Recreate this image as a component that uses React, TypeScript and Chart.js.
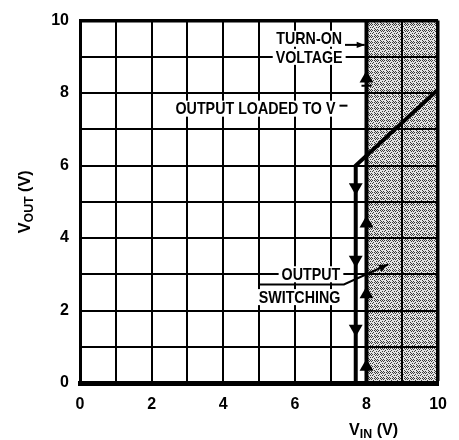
import React, { useEffect, useRef } from "react";
import { Chart, registerables } from "chart.js";

Chart.register(...registerables);

const FONT = '"Liberation Sans", Arial, sans-serif';
const SQUEEZE = 0.84;

// ---- data ----
const gridTicks = [0, 1, 2, 3, 4, 5, 6, 7, 8, 9, 10];
const xTickLabels = [0, 2, 4, 6, 8, 10];
const yTickLabels = [0, 2, 4, 6, 8, 10];

const outputVin = [0, 7.7, 7.7, 10];
const outputVout = [0, 0, 6.0, 8.1];

const turnOnVin = [8, 8];
const turnOnVout = [0, 10];

const fallingVin = 7.7;
const fallingVout = [5.4, 3.4, 1.5];

const risingVin = 8;
const risingVout = [8.4, 4.4, 2.45, 0.45];

const turnOnMarkVout = [8.2];

const shadedVin = [8, 10];

// ---- annotations (data coordinates) ----
const notes = [
  { text: "TURN-ON", vin: 6.4, vout: 9.5 },
  { text: "VOLTAGE", vin: 6.4, vout: 9.0 },
  { text: "OUTPUT LOADED TO V", vin: 4.9, vout: 7.57 },
  { text: "OUTPUT", vin: 6.45, vout: 3.0 },
  { text: "SWITCHING", vin: 6.13, vout: 2.37 },
];
const turnOnArrow = { from: [7.4, 9.33], to: [7.95, 9.33] };
const switchingLeader = [
  [5.0, 2.72],
  [7.37, 2.72],
  [8.6, 3.27],
];

let cachedPattern: CanvasPattern | null = null;
function getPattern(ctx: CanvasRenderingContext2D) {
  if (cachedPattern) return cachedPattern;
  const c = document.createElement("canvas");
  c.width = 6;
  c.height = 6;
  const g = c.getContext("2d")!;
  g.fillStyle = "#e2e2e2";
  g.fillRect(0, 0, 6, 6);
  g.fillStyle = "#3a3a3a";
  const dots = [
    [0, 0], [3, 1], [1, 2], [4, 3], [2, 4], [5, 5], [0, 3], [3, 5], [5, 1], [2, 0], [4, 0],
  ];
  dots.forEach(([x, y]) => g.fillRect(x, y, 1, 1));
  cachedPattern = ctx.createPattern(c, "repeat");
  return cachedPattern!;
}

function arrowLine(ctx: CanvasRenderingContext2D, pts: number[][], size = 8) {
  ctx.beginPath();
  ctx.moveTo(pts[0][0], pts[0][1]);
  for (let i = 1; i < pts.length; i++) ctx.lineTo(pts[i][0], pts[i][1]);
  ctx.stroke();
  const [x1, y1] = pts[pts.length - 2];
  const [x2, y2] = pts[pts.length - 1];
  const a = Math.atan2(y2 - y1, x2 - x1);
  const w = size * 0.4;
  ctx.beginPath();
  ctx.moveTo(x2, y2);
  ctx.lineTo(x2 - size * Math.cos(a) + w * Math.sin(a), y2 - size * Math.sin(a) - w * Math.cos(a));
  ctx.lineTo(x2 - size * Math.cos(a) - w * Math.sin(a), y2 - size * Math.sin(a) + w * Math.cos(a));
  ctx.closePath();
  ctx.fill();
}

function drawRuns(
  ctx: CanvasRenderingContext2D,
  runs: { t: string; size: number; dy: number }[],
  cx: number,
  cy: number,
  squeeze: number
) {
  let total = 0;
  runs.forEach((r) => {
    ctx.font = `bold ${r.size}px ${FONT}`;
    total += ctx.measureText(r.t).width;
  });
  ctx.save();
  ctx.translate(cx, cy);
  ctx.scale(squeeze, 1);
  let x = -total / 2;
  ctx.textAlign = "left";
  ctx.textBaseline = "alphabetic";
  runs.forEach((r) => {
    ctx.font = `bold ${r.size}px ${FONT}`;
    ctx.fillText(r.t, x, r.dy);
    x += ctx.measureText(r.t).width;
  });
  ctx.restore();
}

const customPlugin = {
  id: "custom",
  beforeDraw(chart: any) {
    const { ctx, chartArea, scales } = chart;
    const x0 = scales.x.getPixelForValue(shadedVin[0]);
    const x1 = scales.x.getPixelForValue(shadedVin[1]);
    ctx.save();
    ctx.fillStyle = getPattern(ctx);
    ctx.fillRect(x0, chartArea.top, x1 - x0, chartArea.bottom - chartArea.top);
    ctx.restore();
  },
  afterDatasetsDraw(chart: any) {
    const { ctx, scales } = chart;
    const px = (v: number) => scales.x.getPixelForValue(v);
    const py = (v: number) => scales.y.getPixelForValue(v);
    ctx.save();
    ctx.font = `bold 17px ${FONT}`;
    notes.forEach((n) => {
      const w = ctx.measureText(n.text).width * SQUEEZE;
      const x = px(n.vin);
      const y = py(n.vout);
      ctx.fillStyle = "#fff";
      ctx.fillRect(x - w / 2 - 3, y - 8, w + 6, 16);
      ctx.fillStyle = "#000";
      ctx.save();
      ctx.translate(x, y + 1);
      ctx.scale(SQUEEZE, 1);
      ctx.textAlign = "center";
      ctx.textBaseline = "middle";
      ctx.fillText(n.text, 0, 0);
      ctx.restore();
      if (n.text.endsWith("V")) {
        ctx.fillStyle = "#fff";
        ctx.fillRect(x + w / 2 + 2, y - 8, 12, 10);
        ctx.strokeStyle = "#000";
        ctx.lineWidth = 2;
        ctx.beginPath();
        ctx.moveTo(x + w / 2 + 4, y - 3);
        ctx.lineTo(x + w / 2 + 12, y - 3);
        ctx.stroke();
      }
    });
    ctx.strokeStyle = "#000";
    ctx.fillStyle = "#000";
    ctx.lineWidth = 2;
    arrowLine(ctx, [
      [px(turnOnArrow.from[0]), py(turnOnArrow.from[1])],
      [px(turnOnArrow.to[0]), py(turnOnArrow.to[1])],
    ]);
    arrowLine(
      ctx,
      switchingLeader.map(([a, b]) => [px(a), py(b)]),
      9
    );
    ctx.restore();
  },
  afterDraw(chart: any) {
    const { ctx, chartArea, scales } = chart;
    ctx.save();
    ctx.fillStyle = "#000";
    ctx.translate(chartArea.left - 56, (chartArea.top + chartArea.bottom) / 2);
    ctx.rotate(-Math.PI / 2);
    drawRuns(
      ctx,
      [
        { t: "V", size: 17, dy: 0 },
        { t: "OUT", size: 13, dy: 3 },
        { t: " (V)", size: 17, dy: 0 },
      ],
      0,
      6,
      0.95
    );
    ctx.restore();
    ctx.save();
    ctx.fillStyle = "#000";
    drawRuns(
      ctx,
      [
        { t: "V", size: 17, dy: 0 },
        { t: "IN", size: 13, dy: 3 },
        { t: " (V)", size: 17, dy: 0 },
      ],
      scales.x.getPixelForValue(8.2),
      chartArea.bottom + 52,
      0.95
    );
    ctx.restore();
  },
};

const frameWidth = (ctx: any) => {
  const v = ctx.tick ? ctx.tick.value : null;
  return v === 10 ? 3.5 : 2;
};

export default function App() {
  const ref = useRef<HTMLCanvasElement | null>(null);
  useEffect(() => {
    if (!ref.current) return;
    const chart = new Chart(ref.current, {
      type: "scatter",
      data: {
        datasets: [
          {
            data: fallingVout.map((v) => ({ x: fallingVin, y: v })),
            pointStyle: "triangle",
            pointRotation: 180,
            pointRadius: 8,
            backgroundColor: "#000",
            borderColor: "#000",
            borderWidth: 0,
            showLine: false,
          } as any,
          {
            data: risingVout.map((v) => ({ x: risingVin, y: v })),
            pointStyle: "triangle",
            pointRadius: 8,
            backgroundColor: "#000",
            borderColor: "#000",
            borderWidth: 0,
            showLine: false,
          },
          {
            data: turnOnMarkVout.map((v) => ({ x: risingVin, y: v })),
            pointStyle: "line",
            pointRadius: 5,
            borderColor: "#000",
            borderWidth: 2,
            showLine: false,
          },
          {
            data: outputVin.map((x, i) => ({ x, y: outputVout[i] })),
            showLine: true,
            borderColor: "#000",
            borderWidth: 4,
            pointRadius: 0,
            tension: 0,
          },
          {
            data: turnOnVin.map((x, i) => ({ x, y: turnOnVout[i] })),
            showLine: true,
            borderColor: "#000",
            borderWidth: 4,
            pointRadius: 0,
            tension: 0,
          },
        ],
      },
      options: {
        animation: false,
        responsive: false,
        devicePixelRatio: 1,
        layout: { padding: { top: 11, right: 10, left: 0, bottom: 0 } },
        plugins: { legend: { display: false }, tooltip: { enabled: false } },
        scales: {
          x: {
            type: "linear",
            min: 0,
            max: 10,
            afterBuildTicks: (s: any) => {
              s.ticks = gridTicks.map((v) => ({ value: v }));
            },
            afterFit: (s: any) => {
              s.height = 57;
            },
            ticks: {
              autoSkip: false,
              maxRotation: 0,
              padding: 12,
              color: "#000",
              font: { family: FONT, size: 16, weight: "bold" },
              callback: (v: any) => (xTickLabels.includes(v) ? String(v) : ""),
            },
            grid: { color: "#000", lineWidth: frameWidth, drawTicks: false },
            border: { display: true, color: "#000", width: 5 },
          },
          y: {
            type: "linear",
            min: 0,
            max: 10,
            afterBuildTicks: (s: any) => {
              s.ticks = gridTicks.map((v) => ({ value: v }));
            },
            afterFit: (s: any) => {
              s.width = 80;
            },
            ticks: {
              autoSkip: false,
              padding: 11,
              color: "#000",
              font: { family: FONT, size: 16, weight: "bold" },
              callback: (v: any) => (yTickLabels.includes(v) ? String(v) : ""),
            },
            grid: { color: "#000", lineWidth: frameWidth, drawTicks: false },
            border: { display: true, color: "#000", width: 3 },
          },
        },
      } as any,
      plugins: [customPlugin],
    });
    return () => chart.destroy();
  }, []);
  return (
    <div style={{ position: "absolute", left: 0, top: 0, width: 459, height: 440, background: "#fff" }}>
      <canvas ref={ref} width={459} height={440} style={{ display: "block" }} />
    </div>
  );
}
